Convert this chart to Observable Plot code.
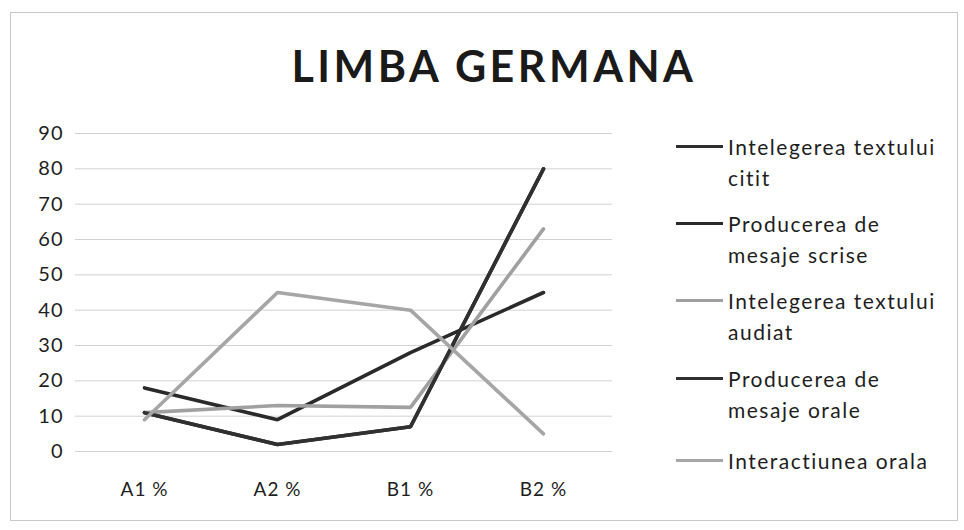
<!DOCTYPE html>
<html>
<head>
<meta charset="utf-8">
<script src="https://cdn.jsdelivr.net/npm/d3@7"></script>
<script src="https://cdn.jsdelivr.net/npm/@observablehq/plot@0.6"></script>
<style>
  html, body { margin: 0; padding: 0; background: #fff; }
  #wrap { position: relative; width: 964px; height: 530px; overflow: hidden; font-family: Lato, "Open Sans", sans-serif; }
  #frame { position: absolute; left: 10px; top: 12px; width: 948px; height: 509px; border: 1px solid #c8c8c8; box-sizing: border-box; }
  #title { position: absolute; left: 12px; width: 964px; top: 44px; line-height: 44px; text-align: center; font-size: 43px; font-weight: bold; letter-spacing: 3.5px; color: #1a1a1a; }
  #chart { position: absolute; left: 0; top: 0; }
  #legend { position: absolute; left: 676px; top: 0; }
  .item { position: absolute; left: 0; width: 290px; }
  .sw { position: absolute; left: 0; width: 47px; height: 3px; }
  .lab { position: absolute; left: 52px; width: 250px; font-size: 21px; line-height: 31px; letter-spacing: 1.5px; color: #1e1e1e; white-space: nowrap; }
</style>
</head>
<body>
<div id="wrap">
  <div id="frame"></div>
  <div id="chart"></div>
  <div id="title">LIMBA GERMANA</div>
  <div id="legend"></div>
</div>
<script>
// Categories (x axis)
const categories = ["A1 %", "A2 %", "B1 %", "B2 %"];
// Series names (legend order)
const seriesNames = [
  "Intelegerea textului citit",
  "Producerea de mesaje scrise",
  "Intelegerea textului audiat",
  "Producerea de mesaje orale",
  "Interactiunea orala"
];
// Legend label lines
const legendLines = [
  ["Intelegerea textului", "citit"],
  ["Producerea de", "mesaje scrise"],
  ["Intelegerea textului", "audiat"],
  ["Producerea de", "mesaje orale"],
  ["Interactiunea orala"]
];
// Series values (percent)
const citit = [11, 2, 7, 80];
const scrise = [18, 9, 28, 45];
const audiat = [11, 13, 12.5, 63];
const orale = [11, 2, 7, 80];
const interactiune = [9, 45, 40, 5];
const seriesValues = [citit, scrise, audiat, orale, interactiune];
// Series colours (grayscale scan)
const seriesColors = ["#2e2e2e", "#2a2a2a", "#a0a0a0", "#303030", "#a6a6a6"];
// Y tick labels
const yTicks = [0, 10, 20, 30, 40, 50, 60, 70, 80, 90];

const rows = [];
seriesNames.forEach((s, i) => {
  categories.forEach((c, j) => rows.push({series: s, cat: c, value: seriesValues[i][j]}));
});

const chart = Plot.plot({
  width: 964,
  height: 530,
  marginLeft: 77,
  marginRight: 354,
  marginTop: 133,
  marginBottom: 79,
  style: {fontFamily: "Lato, 'Open Sans', sans-serif", background: "transparent", color: "#1e1e1e"},
  x: {type: "point", domain: categories, padding: 0.5},
  y: {domain: [0, 90]},
  color: {domain: seriesNames, range: seriesColors},
  marks: [
    Plot.ruleY(yTicks, {stroke: "#d2d2d2", strokeWidth: 1, insetLeft: -2, insetRight: -2}),
    Plot.axisY({ticks: yTicks, tickSize: 0, tickPadding: 14, fontSize: 20, label: null}),
    Plot.axisX({tickSize: 0, tickPadding: 31, fontSize: 19, label: null, tickFormat: d => d}),
    Plot.line(rows, {x: "cat", y: "value", z: "series", stroke: "series", strokeWidth: 3.6, strokeLinejoin: "miter"})
  ]
});
chart.querySelectorAll("text").forEach(t => t.style.letterSpacing = "1px");
document.getElementById("chart").appendChild(chart);

// Legend
const legend = document.getElementById("legend");
const itemTops = [146, 223, 300, 378, 460];
seriesNames.forEach((s, i) => {
  const item = document.createElement("div");
  item.className = "item";
  item.style.top = (itemTops[i] - 15) + "px";
  const sw = document.createElement("div");
  sw.className = "sw";
  sw.style.top = "14px";
  sw.style.background = seriesColors[i];
  item.appendChild(sw);
  const lab = document.createElement("div");
  lab.className = "lab";
  lab.innerHTML = legendLines[i].join("<br>");
  item.appendChild(lab);
  legend.appendChild(item);
});
</script>
</body>
</html>
